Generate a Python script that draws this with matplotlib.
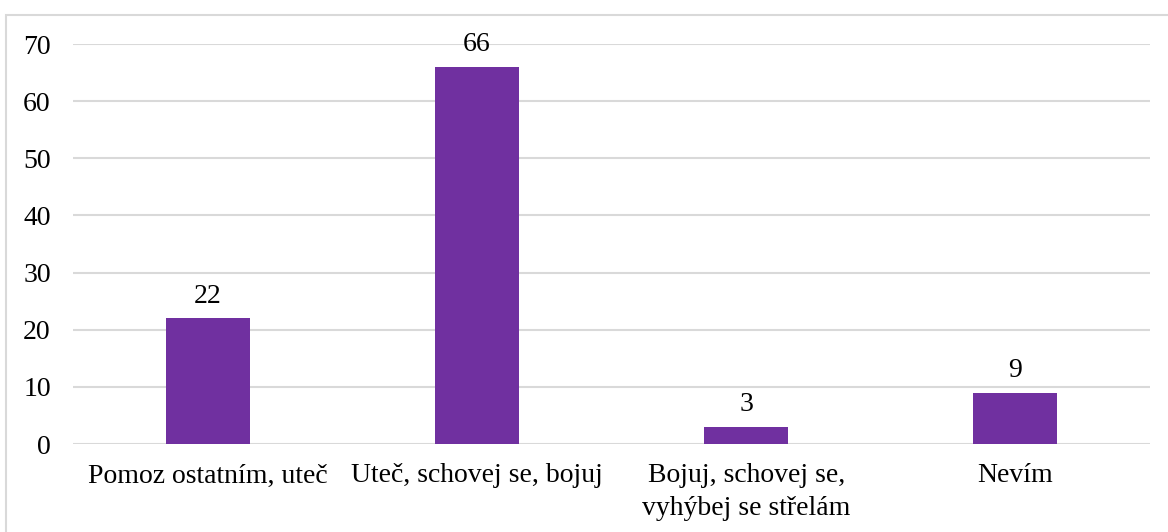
import matplotlib.pyplot as plt
from matplotlib.patches import Rectangle

categories = ["Pomoz ostatním, uteč", "Uteč, schovej se, bojuj",
              "Bojuj, schovej se,\nvyhýbej se střelám", "Nevím"]
values = [22, 66, 3, 9]
yticks = [0, 10, 20, 30, 40, 50, 60, 70]

plt.rcParams['font.family'] = ['Liberation Serif', 'DejaVu Serif']

W, H = 1168, 532
fig = plt.figure(figsize=(W / 100, H / 100), dpi=100)
ax = fig.add_axes([73 / W, 88 / H, (1150 - 73) / W, 400 / H])

# outer chart border, runs off the right and bottom edges
fig.patches.append(Rectangle((6 / W, -0.1), 1.2, 1.1 - 15 / H, transform=fig.transFigure,
                             fill=False, edgecolor='#D9D9D9', linewidth=1.5))

x = range(len(categories))
bars = ax.bar(x, values, width=0.312, color='#7030A0', zorder=3)

for xi, v in zip(x, values):
    ax.annotate(str(v), (xi, v), xytext=(0, 7), textcoords='offset points',
                ha='center', va='bottom', fontsize=20, color='#000000')

ax.set_xlim(-0.5, len(categories) - 0.5)
ax.set_ylim(0, 70)
ax.set_yticks(yticks)
ax.set_xticks(list(x))
ax.set_xticklabels(categories, fontsize=20, linespacing=1.4)
ax.tick_params(axis='y', labelsize=20, length=0, pad=16)
ax.tick_params(axis='x', length=0, pad=14)
ax.grid(axis='y', color='#D9D9D9', linewidth=1.5, zorder=0)
for s in ax.spines.values():
    s.set_visible(False)
ax.set_axisbelow(True)

fig.savefig('out.png', dpi=100)
